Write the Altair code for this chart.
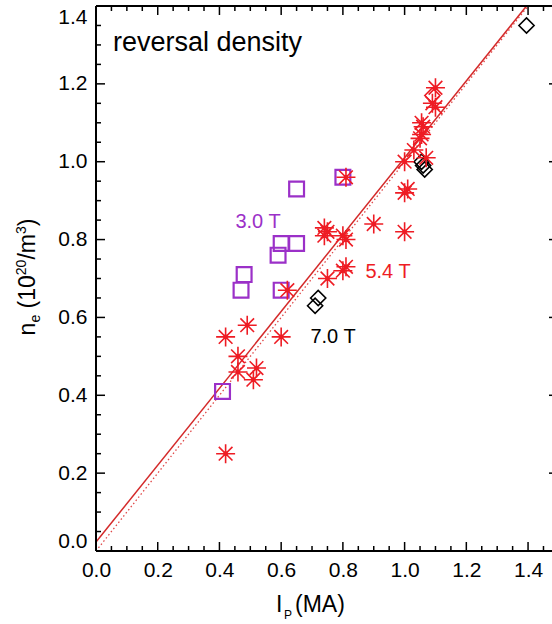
import altair as alt
import pandas as pd

# ---------------- data ----------------
# 5.4 T (red asterisks)
star_x = [0.42, 0.42, 0.46, 0.46, 0.49, 0.51, 0.52, 0.60, 0.62, 0.75,
          0.74, 0.75, 0.74, 0.80, 0.81, 0.80, 0.81, 0.81, 0.90, 1.00,
          1.00, 1.01, 1.00, 1.03, 1.07, 1.05, 1.055, 1.06, 1.055, 1.09,
          1.10, 1.10]
star_y = [0.25, 0.55, 0.46, 0.50, 0.58, 0.44, 0.47, 0.55, 0.67, 0.70,
          0.81, 0.82, 0.83, 0.81, 0.80, 0.72, 0.73, 0.96, 0.84, 0.82,
          0.92, 0.93, 1.00, 1.03, 1.01, 1.06, 1.07, 1.09, 1.10, 1.15,
          1.14, 1.19]
# red diamond hidden in the cluster
rdiam_x = [1.09]
rdiam_y = [1.17]
# 3.0 T (purple squares)
sq_x = [0.41, 0.47, 0.48, 0.59, 0.60, 0.60, 0.65, 0.65, 0.80]
sq_y = [0.41, 0.67, 0.71, 0.76, 0.79, 0.67, 0.79, 0.93, 0.96]
# 7.0 T (black diamonds)
dm_x = [0.71, 0.72, 1.055, 1.06, 1.065, 1.395]
dm_y = [0.63, 0.65, 1.00, 0.99, 0.98, 1.35]
# fit lines
fit_x = [0.0, 1.395]
fit_y = [0.023, 1.40]
ref_x = [0.0, 1.40]
ref_y = [0.0, 1.40]

x_major = [0.0, 0.2, 0.4, 0.6, 0.8, 1.0, 1.2, 1.4]
y_major = [0.0, 0.2, 0.4, 0.6, 0.8, 1.0, 1.2, 1.4]
x_minor = [0.05, 0.1, 0.15, 0.25, 0.3, 0.35, 0.45, 0.5, 0.55, 0.65, 0.7, 0.75,
           0.85, 0.9, 0.95, 1.05, 1.1, 1.15, 1.25, 1.3, 1.35, 1.45]
y_minor = [0.05, 0.1, 0.15, 0.25, 0.3, 0.35, 0.45, 0.5, 0.55, 0.65, 0.7, 0.75,
           0.85, 0.9, 0.95, 1.05, 1.1, 1.15, 1.25, 1.3, 1.35]

# ---------------- styling ----------------
W, H = 456, 545
XMAX, YMAX = 1.4776, 1.4
FONT = "Liberation Sans"
RED = "#ee1c24"
PURPLE = "#9b30c8"
LINE_RED = "#d42a2a"

xs = alt.Scale(domain=[0, XMAX], nice=False, zero=False)
ys = alt.Scale(domain=[0, YMAX], nice=False, zero=False)

x_axis = alt.Axis(values=x_major, format=".1f", labelFontSize=21, labelFont=FONT,
                  labelColor="black", ticks=False, tickSize=0, domain=False,
                  grid=False, title=None, labelPadding=8, labelFlush=False,
                  labelOverlap=False)
y_axis = alt.Axis(values=y_major, format=".1f", labelFontSize=21, labelFont=FONT,
                  labelColor="black", ticks=False, tickSize=0, domain=False,
                  grid=False, title=None, labelPadding=9, labelFlush=True,
                  labelOverlap=False)


def df(**cols):
    return pd.DataFrame(cols)


def X():
    return alt.X("x:Q", scale=xs, axis=x_axis)


def Y():
    return alt.Y("y:Q", scale=ys, axis=y_axis)


ref_line = alt.Chart(df(x=ref_x, y=ref_y)).mark_line(
    color="#e04848", strokeWidth=1.3, strokeDash=[1.5, 2.5]
).encode(x=X(), y=Y())

fit_line = alt.Chart(df(x=fit_x, y=fit_y)).mark_line(
    color=LINE_RED, strokeWidth=1.5
).encode(x=X(), y=Y())

squares = alt.Chart(df(x=sq_x, y=sq_y)).mark_point(
    shape="square", filled=False, stroke=PURPLE, strokeWidth=2.2, size=220, opacity=1
).encode(x=X(), y=Y())

diamonds = alt.Chart(df(x=dm_x, y=dm_y)).mark_point(
    shape="diamond", filled=False, stroke="black", strokeWidth=1.6, size=230, opacity=1
).encode(x=X(), y=Y())

rdiamonds = alt.Chart(df(x=rdiam_x, y=rdiam_y)).mark_point(
    shape="diamond", filled=False, stroke=RED, strokeWidth=1.6, size=230, opacity=1
).encode(x=X(), y=Y())

STAR = "M0,-1L0,1M-1,0L1,0M-0.72,-0.72L0.72,0.72M-0.72,0.72L0.72,-0.72"
stars = alt.Chart(df(x=star_x, y=star_y)).mark_point(
    shape=STAR, filled=False, stroke=RED, strokeWidth=1.6, size=360, opacity=1
).encode(x=X(), y=Y())
star_dots = alt.Chart(df(x=star_x, y=star_y)).mark_point(
    shape="circle", filled=True, color=RED, size=22, opacity=1
).encode(x=X(), y=Y())

# ---------------- frame and inward ticks ----------------
def hticks(vals, y0, y1, width=1.5):
    return alt.Chart(df(x=vals)).mark_rule(color="black", strokeWidth=width).encode(
        x=X(), y=alt.value(y0), y2=alt.value(y1))


def vticks(vals, x0, x1, width=1.5):
    return alt.Chart(df(y=vals)).mark_rule(color="black", strokeWidth=width).encode(
        y=Y(), x=alt.value(x0), x2=alt.value(x1))


frame_left = alt.Chart(df(a=[0])).mark_rule(color="black", strokeWidth=2).encode(
    x=alt.value(0), y=alt.value(0), y2=alt.value(H))
frame_bottom = alt.Chart(df(a=[0])).mark_rule(color="black", strokeWidth=2).encode(
    y=alt.value(H), x=alt.value(0), x2=alt.value(W))
frame_top = alt.Chart(df(a=[0])).mark_rule(color="black", strokeWidth=2).encode(
    y=alt.value(0), x=alt.value(0), x2=alt.value(W))

tick_layers = [
    hticks(x_major, H, H - 9), hticks(x_minor, H, H - 5),
    hticks(x_major, 0, 9), hticks(x_minor, 0, 5),
    vticks(y_major, 0, 9), vticks(y_minor, 0, 5),
    vticks(y_major, W - 3, W),
]

# ---------------- texts ----------------
def txt(s, x, y, size, color="black", align="left", baseline="alphabetic", angle=0):
    return alt.Chart(df(t=[s])).mark_text(
        text=s, font=FONT, fontSize=size, color=color, align=align,
        baseline=baseline, angle=angle
    ).encode(x=alt.value(x), y=alt.value(y))


# rotated y title built from pieces (reads bottom -> top)
TS, SS = 23, 14
WID = {"n": 556, "e": 556, " ": 278, "(": 333, "1": 556, "0": 556, "2": 556,
       "/": 278, "m": 833, "3": 556, ")": 333}
# (text, font size, baseline shift, gap before in px)
pieces = [("n", TS, 0, 0), ("e", SS, 5, 0), ("(10", TS, 0, 6.4), ("20", SS, -9, 0),
          ("/m", TS, 0, 0), ("3", SS, -9, 0), (")", TS, 0, 0)]


def pw(s, fs):
    return sum(WID[c] for c in s) * fs / 1000


total = sum(pw(s, fs) + g for s, fs, _, g in pieces)
ypos = 271 + total / 2
ytitle = []
for s, fs, dx, gap in pieces:
    ypos -= gap
    ytitle.append(txt(s, -61 + dx, ypos, fs, angle=270))
    ypos -= pw(s, fs)

texts = [
    txt("reversal density", 17, 45, 27),
    txt("3.0 T", 162, 216, 20, PURPLE, "center", "middle"),
    txt("5.4 T", 292, 266, 20, RED, "center", "middle"),
    txt("7.0 T", 237, 331, 20, "black", "center", "middle"),
    txt("I", 180, 606, TS),
    txt("P", 188, 613, 12),
    txt("(MA)", 199, 606, TS),
    *ytitle,
]

chart = alt.layer(
    ref_line, fit_line, squares, diamonds, rdiamonds, stars, star_dots,
    frame_left, frame_bottom, frame_top, *tick_layers, *texts
).properties(
    width=W, height=H,
    padding={"left": 96, "top": 6, "right": 0, "bottom": 73},
    autosize=alt.AutoSizeParams(type="none"),
    background="white",
).configure_view(stroke=None)

chart.save("out.html", embed_options={"renderer": "svg", "actions": False})
